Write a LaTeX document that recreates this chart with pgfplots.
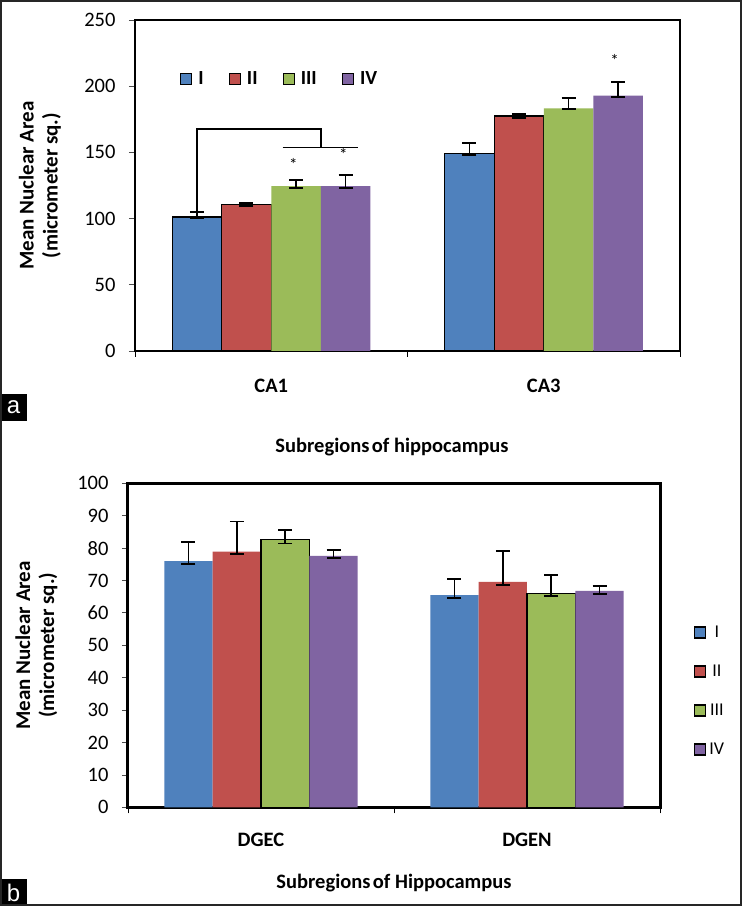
\documentclass[border=0pt]{standalone}
\usepackage{fontspec}
\setmainfont{Carlito}
\newfontfamily\labfont{Liberation Sans}
\usepackage{pgfplots}
\pgfplotsset{compat=1.18}
\definecolor{cI}{HTML}{4F81BD}
\definecolor{cII}{HTML}{C0504D}
\definecolor{cIII}{HTML}{9BBB59}
\definecolor{cIV}{HTML}{8064A2}
\pgfplotsset{
  sqlegend/.style={legend image code/.code={\draw[##1,line width=1.2pt] (0pt,-5.5pt) rectangle (11pt,5.5pt);}},
  common/.style={
    scale only axis,
    ybar=0pt, bar width=0.1818,
    xmin=-0.5, xmax=1.5, ymin=0,
    xtick={0,1},
    major x tick style={draw=none},
    minor xtick={-0.5,0.5,1.5},
    minor x tick style={black,line width=0.8pt},
    minor tick length=6pt,
    major tick length=6pt,
    tick align=outside,
    tick pos=left,
    y tick style={black!70,line width=0.8pt},
    /pgf/number format/assume math mode=true,
    tick label style={font=\fontsize{20.5}{22}\selectfont},
    xticklabel style={font=\bfseries\fontsize{20.5}{22}\selectfont, anchor=base, yshift=-36pt},
    yticklabel style={anchor=east, xshift=-10pt},
    enlarge x limits=false,
  },
  errs/.style={
    error bars/.cd, y dir=both, y explicit,
    error mark options={rotate=90,mark size=7pt,line width=1.8pt,black},
    error bar style={line width=1.8pt,black},
  },
}
\begin{document}
\begin{tikzpicture}
\useasboundingbox (0,0) rectangle (742pt,906pt);
\fill[white] (0,0) rectangle (742pt,906pt);
% ---------------- panel a ----------------
\begin{axis}[common,
  at={(135pt,555pt)}, anchor=south west,
  width=545pt, height=331pt,
  ymax=250, ytick={0,50,...,250},
  xticklabels={CA1,CA3},
  axis line style={line width=1.5pt,black},
  ylabel={Mean Nuclear Area\\(micrometer sq.)},
  every axis y label/.style={at={(axis description cs:-0.1743,0.5)}, rotate=90, anchor=center,
    font=\bfseries\fontsize{21}{24}\selectfont, align=center},
  xlabel={Subregions\hspace{0.12em}of hippocampus},
  every axis x label/.style={at={(axis description cs:0.4716,-0.29)}, anchor=center,
    font=\bfseries\fontsize{20.5}{22}\selectfont},
  legend columns=4,
  legend style={draw=none, fill=none, at={(axis description cs:0.0826,0.822)}, anchor=west,
    font=\bfseries\fontsize{20}{22}\selectfont, inner sep=0pt,
    /tikz/every odd column/.append style={column sep=4pt},
    /tikz/every even column/.append style={column sep=23pt}},
]
\addplot[fill=cI, draw=black, line width=1.2pt, sqlegend, errs] table[x=x,y=y,y error plus=ep,y error minus=em] {
x y ep em
0 101.2 4.0 1.2
1 149.2 7.6 1.2
};
\addplot[fill=cII, draw=black, line width=1.2pt, sqlegend, errs] table[x=x,y=y,y error plus=ep,y error minus=em] {
x y ep em
0 110.8 1.2 1.1
1 177.5 1.2 1.8
};
\addplot[fill=cIII, draw=none, sqlegend, errs] table[x=x,y=y,y error plus=ep,y error minus=em] {
x y ep em
0 124.6 4.6 1.2
1 183.3 7.5 0.8
};
\addplot[fill=cIV, draw=none, sqlegend, errs] table[x=x,y=y,y error plus=ep,y error minus=em] {
x y ep em
0 124.6 8.3 1.2
1 192.8 10.3 0.8
};
\legend{I,II,III,IV}
\draw[line width=1.5pt] (axis cs:-0.2727,105.2) -- (axis cs:-0.2727,167.7) -- (axis cs:0.1818,167.7) -- (axis cs:0.1818,153.8);
\draw[line width=1.5pt] (axis cs:0.042,153.8) -- (axis cs:0.32,153.8);
\node[font=\fontsize{17}{17}\selectfont, anchor=center] at (axis cs:0.081,141) {*};
\node[font=\fontsize{17}{17}\selectfont, anchor=center] at (axis cs:0.265,148.5) {*};
\node[font=\fontsize{17}{17}\selectfont, anchor=center] at (axis cs:1.26,219.7) {*};
\end{axis}
% ---------------- panel b ----------------
\begin{axis}[common,
  at={(128pt,98.7pt)}, anchor=south west,
  width=532pt, height=324pt,
  ymax=100, ytick={0,10,...,100},
  xticklabels={DGEC,DGEN},
  xticklabel style={yshift=3pt},
  axis line style={line width=3pt,black},
  ylabel={Mean Nuclear Area\\(micrometer sq.)},
  every axis y label/.style={at={(axis description cs:-0.172,0.5)}, rotate=90, anchor=center,
    font=\bfseries\fontsize{21}{24}\selectfont, align=center},
  xlabel={Subregions\hspace{0.12em}of Hippocampus},
  every axis x label/.style={at={(axis description cs:0.5,-0.2336)}, anchor=center,
    font=\bfseries\fontsize{20.5}{22}\selectfont},
  legend style={draw=none, fill=none, at={(axis description cs:1.064,0.359)}, anchor=west,
    font=\fontsize{18}{20}\selectfont, inner sep=0pt, row sep=22pt,
    /tikz/every odd column/.append style={column sep=1pt}},
]
\addplot[fill=cI, draw=none, sqlegend, errs] table[x=x,y=y,y error plus=ep,y error minus=em] {
x y ep em
0 76.0 5.8 1.0
1 65.5 5.0 1.0
};
\addplot[fill=cII, draw=none, sqlegend, errs] table[x=x,y=y,y error plus=ep,y error minus=em] {
x y ep em
0 78.9 9.3 0.8
1 69.6 9.5 0.9
};
\addplot[fill=cIII, draw=black, line width=1.2pt, sqlegend, errs] table[x=x,y=y,y error plus=ep,y error minus=em] {
x y ep em
0 82.7 2.9 1.3
1 66.0 5.7 0.8
};
\addplot[fill=cIV, draw=none, sqlegend, errs] table[x=x,y=y,y error plus=ep,y error minus=em] {
x y ep em
0 77.6 1.8 0.7
1 66.8 1.5 1.0
};
\legend{I,II,III,IV}
\end{axis}
% panel tags and frame
\node[fill=black, text=white, font=\labfont\fontsize{24}{24}\selectfont, minimum width=27pt, minimum height=27pt, inner sep=0pt] at (13.5pt,498.5pt) {a};
\node[fill=black, text=white, font=\labfont\fontsize{24}{24}\selectfont, minimum width=27pt, minimum height=27pt, inner sep=0pt] at (13.5pt,13.5pt) {b};
\draw[line width=2pt, black!85] (1pt,1pt) rectangle (741pt,905pt);
\end{tikzpicture}
\end{document}
